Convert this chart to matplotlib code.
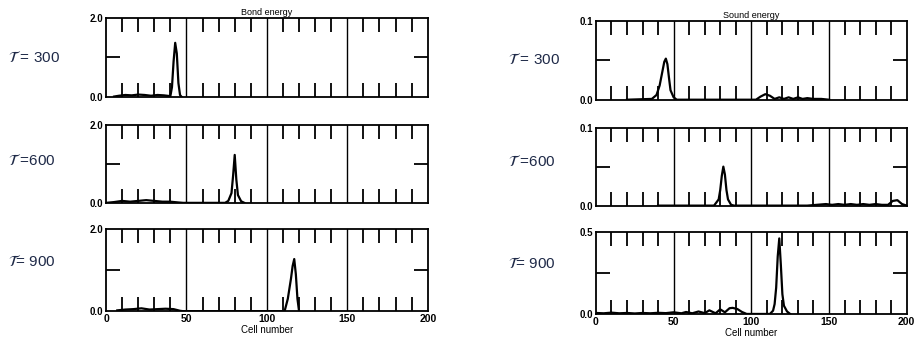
import matplotlib.pyplot as plt
import numpy as np

plt.rcParams['font.family'] = ['Liberation Sans', 'DejaVu Sans']

# ---- data (cell number vs energy) ----
tau_labels = ["$\\mathcal{T}$ = 300", "$\\mathcal{T}$ =600", "$\\mathcal{T}$= 900"]

bond_300_x = [5, 8, 12, 16, 20, 24, 28, 32, 36, 40, 41, 42, 43, 44, 45, 46, 47]
bond_300_y = [0.01, 0.03, 0.05, 0.04, 0.06, 0.05, 0.03, 0.05, 0.04, 0.02, 0.25, 0.9, 1.37, 1.1, 0.35, 0.05, 0.0]

bond_600_x = [0, 5, 10, 15, 20, 25, 30, 35, 40, 45, 48, 74, 76, 78, 79, 80, 81, 82, 84, 86]
bond_600_y = [0.0, 0.02, 0.05, 0.03, 0.05, 0.07, 0.05, 0.03, 0.03, 0.01, 0.0, 0.0, 0.05, 0.25, 0.7, 1.23, 0.6, 0.2, 0.04, 0.0]

bond_900_x = [7, 12, 17, 22, 27, 32, 37, 42, 46, 48, 111, 113, 115, 116, 117, 118, 119, 120]
bond_900_y = [0.02, 0.04, 0.05, 0.07, 0.04, 0.05, 0.06, 0.05, 0.01, 0.0, 0.0, 0.3, 0.8, 1.1, 1.27, 0.9, 0.3, 0.0]

sound_300_x = [20, 36, 39, 41, 43, 44, 45, 46, 47, 48, 50, 52, 103, 106, 109, 112, 115, 118, 121, 124, 127, 130, 133, 136, 140, 145, 150]
sound_300_y = [0.0, 0.001, 0.006, 0.018, 0.038, 0.048, 0.052, 0.045, 0.028, 0.012, 0.003, 0.0,
               0.0, 0.004, 0.007, 0.005, 0.001, 0.003, 0.001, 0.003, 0.001, 0.003, 0.001, 0.002, 0.001, 0.001, 0.0]

sound_600_x = [40, 76, 79, 80, 81, 82, 83, 84, 85, 87, 89, 136, 142, 148, 152, 156, 160, 164, 168, 172, 176, 180, 184, 188, 191, 194, 197, 200]
sound_600_y = [0.0, 0.0, 0.008, 0.02, 0.038, 0.05, 0.04, 0.02, 0.008, 0.001, 0.0,
               0.0, 0.001, 0.002, 0.001, 0.002, 0.001, 0.002, 0.001, 0.002, 0.001, 0.002, 0.001, 0.001, 0.006, 0.007, 0.002, 0.0]

sound_900_x = [0, 5, 10, 15, 20, 25, 30, 35, 40, 45, 50, 55, 58, 62, 66, 70, 73, 77, 80, 83, 86, 88, 91, 94, 97,
               112, 114, 115, 116, 117, 118, 119, 120, 121, 123, 125]
sound_900_y = [0.006, 0.004, 0.008, 0.004, 0.006, 0.003, 0.006, 0.004, 0.007, 0.005, 0.01, 0.004, 0.012, 0.004,
               0.015, 0.005, 0.022, 0.004, 0.028, 0.01, 0.035, 0.037, 0.03, 0.012, 0.0,
               0.0, 0.02, 0.06, 0.16, 0.35, 0.46, 0.3, 0.12, 0.05, 0.015, 0.0]

bond_x = [bond_300_x, bond_600_x, bond_900_x]
bond_y = [bond_300_y, bond_600_y, bond_900_y]
sound_x = [sound_300_x, sound_600_x, sound_900_x]
sound_y = [sound_300_y, sound_600_y, sound_900_y]
sound_top = [0.1, 0.1, 0.5]
sound_top_labels = ["0.1", "0.1", "0.5"]

fig = plt.figure(figsize=(9.14, 3.45), dpi=100)

row_bottoms = [0.719, 0.412, 0.098]
row_heights = [0.229, 0.226, 0.238]
left_x, left_w = 0.116, 0.352
right_x, right_w = 0.652, 0.340
label_y = [58, 160, 262]


def style_axis(ax, top, top_label, show_x):
    ax.set_xlim(0, 200)
    ax.set_ylim(0, top)
    for s in ax.spines.values():
        s.set_linewidth(1.3)
    for v in (50, 100, 150):
        ax.axvline(v, color='black', lw=1.0)
    ax.set_xticks([0, 50, 100, 150, 200])
    ax.set_xticks([10, 20, 30, 40, 60, 70, 80, 90, 110, 120, 130, 140, 160, 170, 180, 190], minor=True)
    ax.set_yticks([0, top])
    ax.set_yticklabels(["0.0", top_label], fontsize=7, fontweight='bold')
    ax.set_yticks([top / 2], minor=True)
    ax.tick_params(which='major', length=0, pad=2)
    ax.tick_params(which='minor', direction='in', length=10, width=1.3,
                   top=True, bottom=True, left=True, right=True)
    if show_x:
        ax.set_xticklabels(["0", "50", "100", "150", "200"], fontsize=7.5, fontweight='bold')
        ax.set_xlabel("Cell number", fontsize=7, labelpad=1)
    else:
        ax.set_xticklabels([])


for i in range(3):
    axl = fig.add_axes([left_x, row_bottoms[i], left_w, row_heights[i]])
    axl.plot(bond_x[i], bond_y[i], color='black', lw=1.6)
    style_axis(axl, 2.0, "2.0", i == 2)

    axr = fig.add_axes([right_x, row_bottoms[i] - 0.008, right_w, row_heights[i]])
    axr.plot(sound_x[i], sound_y[i], color='black', lw=1.6)
    style_axis(axr, sound_top[i], sound_top_labels[i], i == 2)

    if i == 0:
        axl.set_title("Bond energy", fontsize=6.5, pad=2)
        axr.set_title("Sound energy", fontsize=6.5, pad=2)

    fig.text(8 / 914, 1 - label_y[i] / 345, tau_labels[i], fontsize=11, color='#1f2a48', va='center')
    fig.text(508 / 914, 1 - (label_y[i] + 2) / 345, tau_labels[i], fontsize=11, color='#1f2a48', va='center')

fig.savefig("out.png", dpi=100)
